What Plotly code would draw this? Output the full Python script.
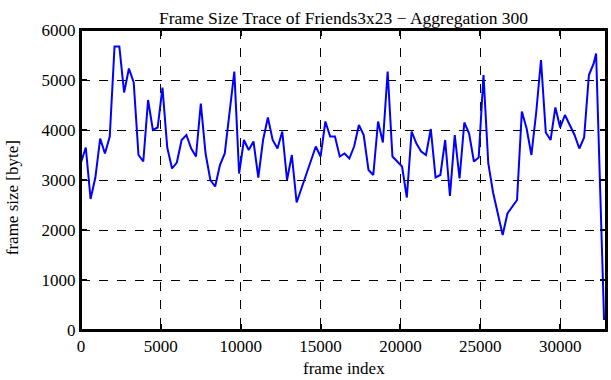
import plotly.graph_objects as go

frames = [0, 300, 600, 900, 1200, 1500, 1800, 2100, 2400, 2700, 3000, 3300, 3600, 3900,
          4200, 4500, 4800, 5100, 5400, 5700, 6000, 6300, 6600, 6900, 7200, 7500, 7800,
          8100, 8400, 8700, 9000, 9300, 9600, 9900, 10200, 10500, 10800, 11100, 11400,
          11700, 12000, 12300, 12600, 12900, 13200, 13500, 13800, 14100, 14400, 14700,
          15000, 15300, 15600, 15900, 16200, 16500, 16800, 17100, 17400, 17700, 18000,
          18300, 18600, 18900, 19200, 19500, 19800, 20100, 20400, 20700, 21000, 21300,
          21600, 21900, 22200, 22500, 22800, 23100, 23400, 23700, 24000, 24300, 24600,
          24900, 25200, 25500, 25800, 26100, 26400, 26700, 27000, 27300, 27600, 27900,
          28200, 28500, 28800, 29100, 29400, 29700, 30000, 30300, 30600, 30900, 31200,
          31500, 31800, 32100, 32250, 32550, 32750]
frame_size = [3350, 3650, 2620, 3050, 3830, 3530, 3870, 5670, 5670, 4750, 5230, 4950, 3500, 3370,
              4600, 4000, 4050, 4850, 3650, 3230, 3350, 3800, 3900, 3630, 3470, 4530, 3530,
              3000, 2870, 3300, 3530, 4400, 5170, 3130, 3800, 3600, 3770, 3050, 3800,
              4250, 3800, 3630, 3970, 3000, 3500, 2550, 2830, 3100, 3350, 3670,
              3470, 4170, 3870, 3870, 3470, 3530, 3430, 3670, 4100, 3900, 3200,
              3100, 4170, 3750, 5170, 3470, 3370, 3270, 2650, 3970, 3730, 3570,
              3500, 4020, 3050, 3100, 3800, 2680, 3900, 3030, 4150, 3930, 3370,
              3450, 5100, 3330, 2750, 2350, 1900, 2330, 2470, 2600, 4370, 4030,
              3500, 4350, 5400, 3950, 3800, 4450, 4050, 4300, 4100, 3900, 3630,
              3850, 5100, 5330, 5530, 2100, 200]

x_ticks = [0, 5000, 10000, 15000, 20000, 25000, 30000]
y_ticks = [0, 1000, 2000, 3000, 4000, 5000, 6000]

title_text = "Frame Size Trace of Friends3x23 \u2212 Aggregation 300"
x_title = "frame index"
y_title = "frame size [byte]"

FONT = "Liberation Serif, Times New Roman, serif"

fig = go.Figure()
fig.add_trace(go.Scatter(x=frames, y=frame_size, mode="lines",
                         line=dict(color="#0000ff", width=2), showlegend=False))

axis_common = dict(
    showline=True, linecolor="black", linewidth=2, mirror="ticks",
    ticks="inside", ticklen=6, tickwidth=2, tickcolor="black",
    showgrid=True, gridcolor="black", griddash="dash", gridwidth=1,
    zeroline=False,
    tickfont=dict(family=FONT, size=17, color="black"),
)

fig.update_xaxes(range=[0, 32870], tickvals=x_ticks, ticktext=[str(v) for v in x_ticks],
                 **axis_common)
fig.update_yaxes(range=[0, 6000], tickvals=y_ticks, ticktext=[str(v) for v in y_ticks],
                 **axis_common)

# plot frame
fig.add_shape(type="rect", xref="paper", yref="paper", x0=0, x1=1, y0=0, y1=1,
              line=dict(color="black", width=2), fillcolor="rgba(0,0,0,0)", layer="above")

fig.add_annotation(text=x_title, xref="paper", yref="paper", x=0.5, y=-0.13,
                   xanchor="center", yanchor="middle", showarrow=False,
                   font=dict(family=FONT, size=17, color="black"))
fig.add_annotation(text=y_title, xref="paper", yref="paper", x=-0.131, y=0.44,
                   xanchor="center", yanchor="middle", textangle=-90, showarrow=False,
                   font=dict(family=FONT, size=17, color="black"))

fig.update_layout(
    width=611, height=380,
    margin=dict(l=81, r=3, t=30, b=50),
    paper_bgcolor="white", plot_bgcolor="white",
    title=dict(text=title_text, x=0.5, xref="paper", xanchor="center", y=0.97, yanchor="top",
               font=dict(family=FONT, size=17.5, color="black")),
)

fig.write_html("out.html", post_script="document.body.style.margin='0';",
               config={"displayModeBar": False})
